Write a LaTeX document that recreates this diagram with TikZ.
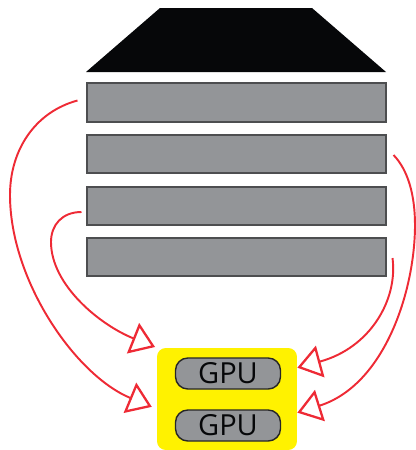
\documentclass[tikz,border=0pt]{standalone}
\usepackage{xcolor}
\usepackage{fontspec}
\setmainfont{Open Sans}
\usetikzlibrary{arrows.meta}
\definecolor{S0}{HTML}{939598}
\definecolor{S1}{HTML}{4d4e50}
\definecolor{R0}{HTML}{ee2a35}
\definecolor{Y0}{HTML}{fff200}
\definecolor{K0}{HTML}{060709}
\tikzset{
  shelfbox/.style={draw=S1, line width=0.9pt, fill=S0, minimum width=5.97cm, minimum height=0.77cm, inner sep=0pt},
  gpubox/.style={draw=black!85, line width=0.8pt, fill=S0, rounded corners=7pt, minimum width=2.1cm, minimum height=0.62cm, inner sep=0pt, text=K0, font=\fontsize{16.5}{18}\selectfont},
  hostbox/.style={fill=Y0, rounded corners=5pt, minimum width=2.8cm, minimum height=2.04cm, inner sep=0pt},
  link/.style={draw=R0, line width=1.1pt, -{Triangle[open, length=13.5pt, width=18.5pt, line width=1.3pt]}}
}
\begin{document}
\begin{tikzpicture}[x=0.02cm, y=-0.02cm]%
\useasboundingbox (0,0) rectangle (416,450);%
\fill[K0] (160,8) -- (312,8) -- (386,72) -- (86,72) -- cycle;%
\node[shelfbox] (shelf0) at (236.5,102.5) {};%
\node[shelfbox] (shelf1) at (236.5,154) {};%
\node[shelfbox] (shelf2) at (236.5,206) {};%
\node[shelfbox] (shelf3) at (236.5,257) {};%
\node[hostbox] (host) at (227,399) {};%
\node[gpubox] (gpu0) at (228,373.5) {GPU};%
\node[gpubox] (gpu1) at (228,425.5) {GPU};%
\draw[link, shorten >=3pt] (shelf0.west) ++(-9,-2) .. controls (35,112) and (10,150) .. (10,195) .. controls (10,280) and (75,375) .. (host.188);%
\draw[link, shorten >=1pt] (shelf2.west) ++(-5,6) .. controls (62,212) and (51,225) .. (51,242) .. controls (51,285) and (100,325) .. (host.north west);%
\draw[link] (shelf1.east) ++(7,1) .. controls (408,170) and (415,195) .. (415,225) .. controls (415,290) and (385,385) .. (host.-11);%
\draw[link] (shelf3.east) ++(6,1) .. controls (398,300) and (370,348) .. (host.24);%
\end{tikzpicture}
\end{document}
